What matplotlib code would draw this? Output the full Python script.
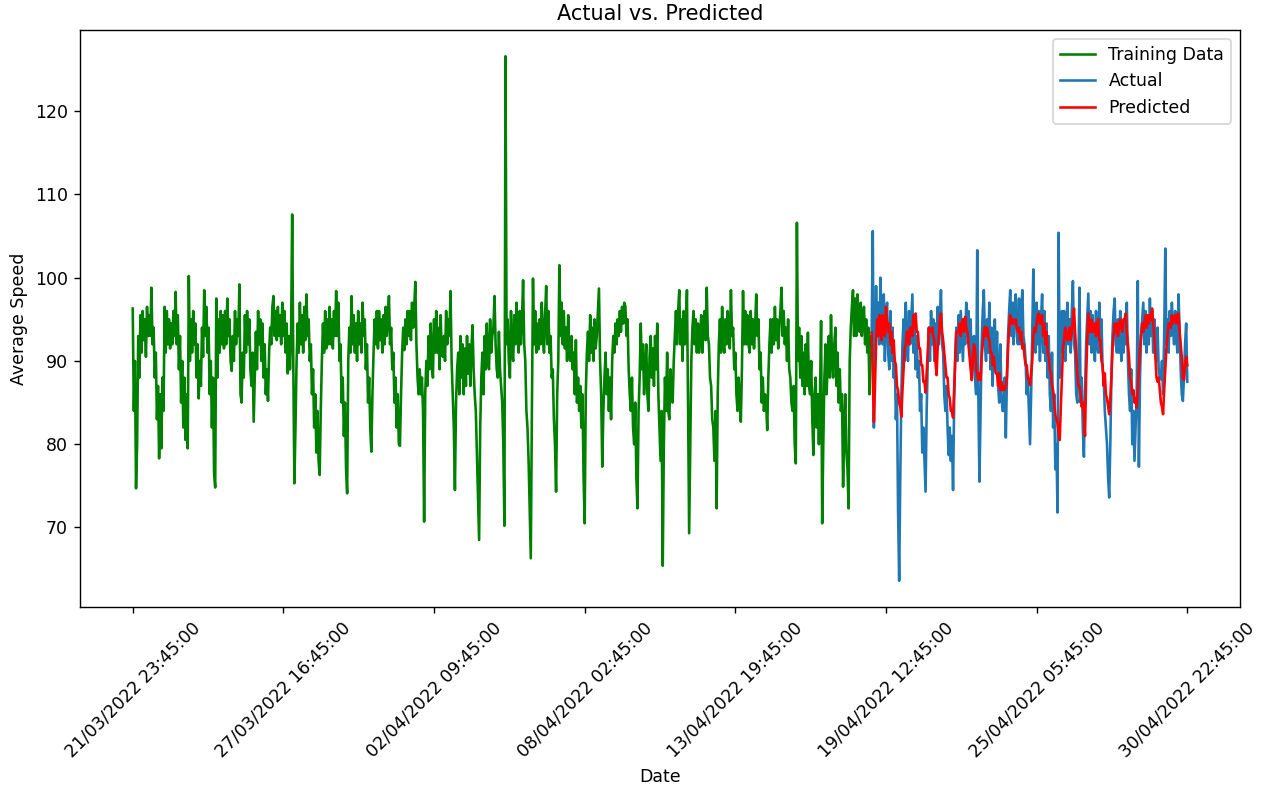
import numpy as np
import pandas as pd
import matplotlib
matplotlib.use("Agg")
import matplotlib.pyplot as plt

start_time = "2022-03-21 23:45:00"

# Hourly average speed, training part (one row per day)
train_values = [
    96.3, 84.0, 90.0, 74.7, 80.0, 93.0, 88.0, 95.5, 91.0, 96.0, 92.5, 95.0, 90.5, 96.5, 93.0, 95.5, 93.0, 98.8, 92.0, 94.0, 88.0, 91.0, 83.0, 87.0,
    78.3, 86.0, 79.5, 88.0, 84.0, 96.5, 91.0, 96.0, 92.0, 95.0, 91.5, 94.5, 92.0, 96.0, 93.0, 98.3, 92.0, 95.5, 89.0, 93.0, 85.0, 90.0, 82.0, 88.0,
    80.5, 86.0, 79.5, 100.2, 90.0, 95.0, 91.0, 96.0, 92.0, 94.5, 88.0, 92.0, 85.5, 90.0, 87.0, 94.0, 90.5, 98.5, 93.0, 96.5, 91.0, 94.0, 86.0, 90.0,
    82.0, 88.0, 76.5, 74.8, 97.5, 88.0, 95.0, 91.0, 96.0, 92.0, 95.5, 91.5, 96.0, 92.0, 97.5, 93.0, 95.0, 90.0, 88.8, 93.0, 90.0, 96.0, 92.0, 95.0,
    93.0, 99.2, 86.0, 85.0, 91.0, 88.0, 95.5, 91.0, 96.0, 92.0, 95.0, 89.0, 87.0, 91.0, 82.7, 88.0, 93.5, 89.0, 96.0, 92.0, 95.0, 90.0, 94.5, 88.0,
    92.0, 86.0, 89.0, 85.2, 91.0, 94.0, 92.0, 96.5, 97.8, 93.0, 96.0, 92.5, 96.5, 93.0, 95.5, 92.0, 97.0, 93.0, 96.0, 91.0, 94.5, 88.5, 93.0, 89.0,
    93.0, 107.6, 90.0, 75.3, 82.0, 90.0, 94.5, 91.0, 97.0, 92.0, 95.5, 91.0, 96.5, 92.5, 98.0, 93.0, 95.0, 90.0, 92.0, 86.0, 89.0, 82.0, 86.0, 79.0,
    84.0, 78.0, 76.3, 84.0, 90.0, 94.5, 91.0, 96.0, 91.5, 95.0, 92.0, 96.5, 92.0, 95.0, 91.5, 96.0, 93.0, 98.4, 93.0, 97.0, 90.0, 92.0, 85.0, 88.0,
    81.0, 85.0, 77.0, 74.1, 90.0, 94.0, 91.0, 97.8, 92.0, 95.5, 91.0, 94.5, 90.0, 96.0, 92.0, 94.5, 91.0, 97.0, 93.0, 95.0, 89.0, 92.0, 85.0, 88.0,
    82.0, 79.1, 86.0, 91.0, 95.0, 92.0, 96.0, 91.5, 96.0, 92.5, 95.0, 91.0, 95.5, 92.0, 96.5, 93.0, 95.0, 97.8, 92.0, 94.0, 89.0, 91.0, 85.0, 88.0,
    82.0, 86.0, 80.0, 79.8, 86.0, 91.0, 94.0, 91.3, 95.0, 92.0, 96.0, 93.0, 96.0, 92.5, 97.0, 94.0, 96.5, 99.5, 92.0, 88.0, 86.0, 89.0, 86.0, 88.0,
    84.0, 70.7, 86.0, 90.0, 87.0, 93.0, 89.0, 94.5, 90.0, 88.0, 95.0, 91.0, 96.0, 91.0, 94.0, 89.0, 95.5, 91.0, 90.5, 93.0, 90.0, 96.0, 92.0, 95.0,
    93.0, 98.4, 90.0, 86.0, 82.0, 74.5, 85.0, 89.0, 91.0, 86.0, 93.0, 88.0, 92.0, 86.0, 91.5, 87.0, 93.0, 88.5, 92.0, 87.0, 91.5, 94.3, 89.0, 86.0,
    84.0, 79.0, 74.0, 68.5, 82.0, 88.0, 91.0, 86.0, 93.0, 89.0, 94.5, 90.0, 89.0, 95.0, 91.0, 93.0, 94.0, 97.8, 92.0, 89.0, 88.0, 93.5, 89.0, 87.0,
    85.0, 80.0, 70.2, 126.6, 92.0, 95.0, 90.0, 88.0, 96.0, 91.0, 90.0, 95.5, 92.0, 97.0, 93.0, 91.0, 96.0, 92.0, 95.0, 99.7, 92.0, 90.0, 84.0, 82.0,
    78.0, 72.0, 66.3, 84.0, 99.9, 92.0, 96.0, 91.0, 94.5, 91.4, 95.0, 92.0, 97.0, 93.0, 91.0, 95.5, 99.0, 92.0, 96.0, 91.0, 93.0, 88.0, 89.0, 83.0,
    80.0, 74.3, 86.0, 90.0, 101.5, 93.0, 97.0, 92.0, 96.0, 91.5, 94.0, 90.0, 95.5, 91.0, 90.0, 93.0, 89.0, 91.0, 86.0, 92.5, 85.0, 88.0, 84.0, 87.0,
    82.0, 86.0, 76.0, 70.5, 86.0, 91.0, 93.5, 90.0, 95.5, 91.0, 94.0, 90.0, 95.0, 91.5, 93.0, 96.0, 98.7, 90.0, 86.0, 77.3, 84.0, 88.0, 91.0, 86.0,
    89.0, 84.0, 88.0, 83.0, 90.0, 93.0, 91.0, 94.5, 92.0, 95.0, 93.0, 96.0, 93.5, 96.5, 94.5, 97.0, 96.6, 93.0, 95.0, 89.0, 86.0, 84.0, 88.0, 82.0,
    80.0, 85.0, 76.0, 72.3, 84.0, 88.0, 94.5, 89.0, 92.0, 86.0, 89.5, 92.0, 86.0, 84.0, 90.5, 93.0, 88.0, 91.5, 87.0, 93.0, 89.0, 94.5, 86.0, 82.0,
    78.0, 84.0, 65.4, 80.0, 88.0, 84.0, 91.0, 84.0, 83.0, 89.0, 86.0, 85.0, 90.0, 93.0, 96.0, 92.0, 96.0, 98.5, 92.0, 95.0, 90.0, 96.0, 92.0, 94.0,
    98.5, 85.0, 69.3, 80.0, 90.0, 94.0, 96.0, 92.0, 95.0, 91.0, 94.5, 91.0, 93.0, 95.5, 91.0, 94.0, 96.0, 92.5, 98.8, 93.0, 92.0, 88.0, 87.0, 83.0,
    82.0, 78.0, 84.0, 72.3, 86.0, 92.0, 95.0, 91.0, 96.5, 92.0, 91.0, 95.0, 92.0, 96.0, 93.0, 91.5, 98.5, 93.0, 94.0, 89.0, 91.0, 86.0, 84.0, 88.0,
    85.0, 82.7, 89.0, 98.4, 92.0, 96.0, 92.0, 95.5, 92.0, 91.0, 96.0, 92.0, 95.0, 91.5, 94.0, 98.0, 93.0, 95.0, 89.0, 91.0, 85.0, 88.0, 84.0, 86.0,
    85.0, 81.7, 88.0, 92.0, 95.0, 91.0, 95.0, 92.0, 96.5, 92.5, 95.0, 91.5, 94.0, 96.0, 98.8, 93.0, 96.0, 92.0, 94.0, 90.0, 95.0, 89.0, 88.0, 85.0,
    84.0, 87.0, 80.0, 77.7, 106.6, 90.0, 94.0, 88.0, 93.0, 87.0, 91.0, 86.0, 92.0, 87.0, 93.4, 87.0, 86.0, 90.0, 83.0, 78.7, 86.0, 88.0, 82.0, 86.0,
    80.0, 86.0, 94.8, 70.5, 80.0, 88.0, 92.0, 86.0, 90.0, 93.0, 88.0, 95.5, 90.0, 88.0, 92.0, 94.0, 87.0, 91.0, 85.0, 89.0, 84.0, 86.0, 74.9, 82.0,
    86.0, 79.0, 77.0, 72.3, 90.0, 94.0, 96.5, 98.5, 93.0, 97.5, 93.0, 98.0, 94.0, 93.5, 97.0, 93.0, 95.0, 96.5, 92.0, 95.0, 91.0, 94.0, 86.0, 93.0,
]

# Test part: actual values
actual_values = [
    93.4, 105.6, 82.0, 92.0, 99.0, 93.0, 97.0, 92.0, 100.0, 94.0, 92.0, 98.0, 90.0, 95.5, 97.0, 91.0, 89.0, 96.0, 90.0, 94.0, 88.0, 90.0, 83.0, 86.0,
    72.0, 63.6, 76.0, 86.0, 92.0, 95.0, 90.0, 97.0, 92.0, 90.0, 96.0, 92.0, 95.0, 98.0, 91.0, 94.0, 89.0, 93.0, 88.0, 90.0, 84.0, 86.0, 79.0, 82.0,
    78.0, 74.3, 84.0, 90.0, 94.0, 90.0, 96.0, 92.0, 95.0, 90.0, 94.5, 91.0, 96.5, 92.0, 95.0, 98.5, 92.0, 91.0, 86.0, 84.0, 87.0, 82.0, 78.7, 82.0,
    78.0, 81.0, 74.5, 85.0, 91.0, 94.0, 90.0, 95.5, 91.0, 96.0, 93.0, 90.0, 95.0, 92.0, 97.0, 93.0, 96.0, 92.0, 95.0, 87.8, 91.0, 93.0, 88.0, 86.0,
    103.3, 86.0, 75.5, 84.0, 92.0, 96.0, 98.5, 92.0, 90.0, 95.0, 91.0, 97.0, 89.0, 94.0, 87.0, 92.0, 95.0, 89.0, 93.5, 87.0, 85.0, 92.0, 86.0, 84.0,
    84.0, 88.0, 80.8, 88.0, 93.0, 96.0, 98.5, 93.0, 97.0, 92.0, 96.5, 98.0, 93.0, 92.0, 97.5, 92.0, 96.0, 98.5, 93.0, 92.0, 90.0, 86.0, 88.0, 84.0,
    80.0, 86.0, 93.0, 101.0, 93.0, 91.0, 97.0, 92.0, 96.0, 90.0, 95.0, 98.0, 91.0, 96.0, 90.0, 94.5, 88.0, 93.0, 86.0, 84.0, 91.0, 82.0, 86.0, 77.0,
    80.0, 71.8, 105.4, 88.0, 92.0, 96.0, 91.0, 96.0, 90.0, 94.0, 97.0, 92.0, 95.0, 91.0, 96.0, 99.6, 92.0, 91.0, 86.0, 85.0, 90.0, 98.8, 85.0, 88.0,
    82.0, 78.5, 86.0, 92.0, 95.0, 98.1, 92.0, 96.0, 91.0, 95.5, 92.0, 90.0, 96.0, 92.0, 91.0, 97.0, 91.0, 95.0, 89.0, 88.0, 84.0, 82.0, 80.0, 76.0,
    73.6, 80.0, 88.0, 93.0, 96.0, 97.5, 92.0, 91.0, 95.0, 91.0, 96.0, 90.0, 94.5, 91.0, 95.0, 92.0, 97.0, 90.0, 86.0, 84.0, 89.0, 80.0, 84.0, 78.0,
    82.0, 86.0, 99.6, 77.3, 88.0, 93.0, 95.0, 97.0, 92.0, 96.0, 91.0, 95.5, 92.0, 97.5, 93.0, 96.0, 91.0, 95.0, 92.0, 90.0, 94.0, 89.0, 88.0, 87.8,
    90.0, 86.0, 93.0, 103.5, 92.0, 95.0, 91.0, 96.0, 93.0, 97.0, 94.0, 92.0, 96.0, 93.0, 91.0, 98.0, 94.0, 89.0, 86.0, 85.2, 88.0, 92.0, 94.5, 87.5,
]

# Test part: predicted values
predicted_values = [
    93.4, 88.0, 82.7, 87.0, 92.0, 95.0, 93.0, 95.5, 93.5, 92.5, 95.5, 93.5, 93.0, 96.5, 94.5, 93.5, 94.5, 92.0, 93.5, 91.0, 92.5, 90.0, 89.5, 87.0,
    86.5, 85.0, 84.5, 83.3, 86.5, 89.0, 91.5, 92.0, 93.5, 93.5, 92.0, 94.0, 94.0, 93.0, 95.5, 94.0, 95.7, 93.5, 93.5, 91.5, 91.5, 89.5, 89.5, 87.5,
    87.5, 86.2, 88.5, 91.0, 94.0, 93.5, 93.5, 94.0, 93.0, 92.5, 90.0, 88.3, 91.5, 93.0, 95.0, 95.7, 93.5, 92.5, 91.0, 89.5, 88.0, 88.0, 86.0, 85.5,
    84.0, 84.0, 83.2, 86.5, 90.0, 93.5, 93.5, 93.5, 94.5, 93.0, 94.5, 95.0, 93.5, 95.3, 94.0, 93.5, 92.0, 90.5, 89.0, 87.7, 90.5, 92.0, 91.5, 89.0,
    88.5, 87.7, 88.5, 87.7, 90.5, 92.0, 93.5, 94.1, 93.0, 94.0, 93.0, 92.5, 91.0, 91.0, 89.5, 90.5, 89.0, 88.5, 88.5, 87.0, 88.5, 86.5, 87.5, 86.5,
    87.0, 86.5, 87.0, 88.0, 91.5, 94.0, 95.5, 94.5, 95.0, 94.5, 94.5, 95.0, 94.0, 93.5, 94.0, 92.5, 93.5, 91.5, 92.0, 90.5, 89.5, 89.5, 88.0, 87.7,
    87.1, 88.5, 90.0, 93.0, 94.0, 93.5, 94.5, 95.5, 95.7, 94.5, 94.5, 95.5, 93.0, 94.5, 92.0, 93.5, 91.0, 90.5, 89.0, 88.5, 87.0, 86.5, 85.0, 83.5,
    83.0, 82.5, 81.4, 80.5, 84.5, 88.0, 91.5, 92.5, 94.0, 93.0, 92.5, 93.5, 94.0, 92.5, 93.5, 95.0, 96.3, 93.5, 91.0, 88.5, 87.0, 87.0, 86.0, 84.5,
    85.0, 83.5, 81.0, 88.0, 92.5, 95.7, 93.5, 93.5, 95.0, 93.5, 93.5, 94.5, 93.0, 94.5, 95.0, 92.5, 92.5, 90.0, 89.5, 87.0, 88.5, 86.0, 85.5, 84.5,
    83.6, 85.5, 88.0, 91.5, 93.0, 94.5, 93.5, 94.5, 93.0, 94.5, 95.0, 94.0, 93.5, 95.0, 95.0, 95.7, 93.5, 92.0, 90.5, 88.0, 87.5, 86.0, 86.5, 85.0,
    85.5, 84.4, 86.5, 89.0, 91.5, 93.0, 94.5, 93.5, 94.5, 95.5, 94.0, 95.5, 94.5, 95.5, 95.0, 96.3, 94.5, 93.0, 90.5, 88.0, 87.5, 88.0, 86.5, 85.0,
    84.5, 83.6, 86.5, 89.0, 91.5, 93.0, 94.5, 94.5, 94.0, 95.5, 94.5, 95.0, 95.5, 94.5, 95.5, 95.7, 93.5, 92.0, 90.5, 88.0, 87.7, 89.5, 90.5, 89.5,
]

tick_labels = [
    "21/03/2022 23:45:00", "27/03/2022 16:45:00", "02/04/2022 09:45:00",
    "08/04/2022 02:45:00", "13/04/2022 19:45:00", "19/04/2022 12:45:00",
    "25/04/2022 05:45:00", "30/04/2022 22:45:00",
]

n_train = len(train_values)
x_train = np.arange(n_train)
x_test = n_train + np.arange(len(actual_values))
x_pred = n_train + np.arange(len(predicted_values))

t0 = pd.Timestamp(start_time)
tick_pos = [(pd.to_datetime(l, format="%d/%m/%Y %H:%M:%S") - t0) / pd.Timedelta(hours=1)
            for l in tick_labels]

DPI = 125
fig = plt.figure(figsize=(1261 / DPI, 789 / DPI), dpi=DPI)
ax = fig.add_axes([80 / 1261, 1 - 607 / 789, 1160 / 1261, 577 / 789])

ax.plot(x_train, train_values, color="green", label="Training Data")
ax.plot(x_test, actual_values, color="#1f77b4", label="Actual")
ax.plot(x_pred, predicted_values, color="red", label="Predicted")

ax.set_xticks(tick_pos)
ax.set_xticklabels(tick_labels, rotation=45)
ax.set_title("Actual vs. Predicted")
ax.set_xlabel("Date")
ax.set_ylabel("Average Speed")
ax.legend(loc="upper right")

fig.savefig("out.png", dpi=DPI)
